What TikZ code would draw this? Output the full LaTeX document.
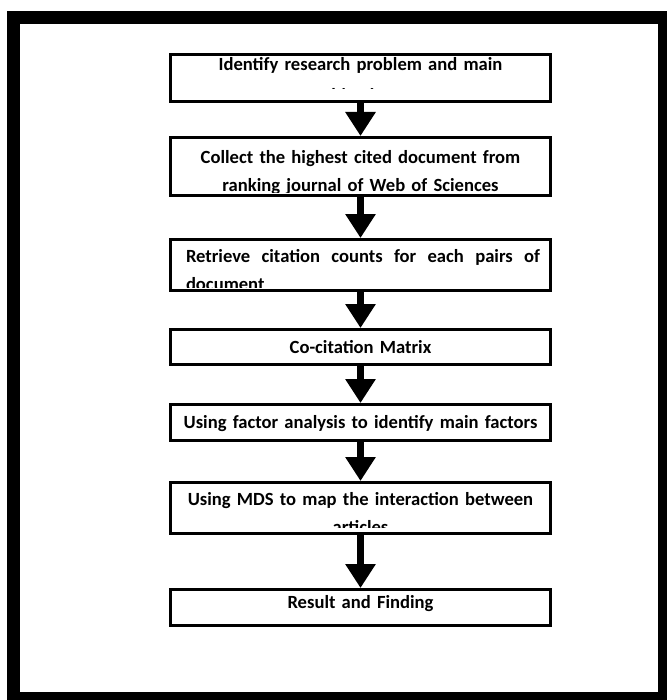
\documentclass[tikz,border=0pt]{standalone}
\usepackage{fontspec}
\setmainfont{Carlito}
\usetikzlibrary{arrows.meta}

\newcommand\stagefont{\bfseries\fontsize{9.3}{14}\selectfont\hyphenpenalty=10000}

\tikzset{
    stage/.style={draw=black, line width=1.5pt, minimum width=190pt, inner sep=0pt},
    stagetext/.style={font=\stagefont, text width=186pt, align=center, inner sep=0pt, anchor=base},
    flow/.style={line width=3.5pt, -{Triangle[width=14.5pt,length=12pt]}}
}

\begin{document}
\begin{tikzpicture}[x=0.5pt, y=-0.5pt]
        \useasboundingbox (0, 0) rectangle (667, 700);
        \draw [line width=6.5pt] (13.5, 18) rectangle (664.5, 698.5);

        \node [stage, minimum height=23.5pt] (identify) at (360.5, 78) {};
        \node [stage, minimum height=29pt] (collect) at (360.5, 166.5) {};
        \node [stage, minimum height=25.5pt] (retrieve) at (360.5, 265) {};
        \node [stage, minimum height=17.5pt] (matrix) at (360.5, 347) {};
        \node [stage, minimum height=18pt] (factor) at (360.5, 422.5) {};
        \node [stage, minimum height=25.5pt] (mds) at (360.5, 508) {};
        \node [stage, minimum height=18pt] (result) at (360.5, 607.5) {};

        \begin{scope}
            \clip (identify.north west) rectangle ([yshift=7pt]identify.south east);
            \node [stagetext] (identify-txt) at (360.5, 71) {Identify research problem and main\\[1.5pt]objectives};
        \end{scope}
        \begin{scope}
            \clip (collect.north west) rectangle ([yshift=2.25pt]collect.south east);
            \node [stagetext] (collect-txt) at (360.5, 163) {Collect the highest cited document from\\ranking journal of Web of Sciences};
        \end{scope}
        \begin{scope}
            \clip (retrieve.north west) rectangle ([yshift=2.5pt]retrieve.south east);
            \node [stagetext, text width=177pt, align=justify] (retrieve-txt) at (363, 262) {Retrieve citation counts for each pairs of document};
        \end{scope}
        \node [stagetext] (matrix-txt) at (360.5, 353) {Co-citation Matrix};
        \node [stagetext] (factor-txt) at (360.5, 428) {Using factor analysis to identify main factors};
        \begin{scope}
            \clip (mds.north west) rectangle ([yshift=4pt]mds.south east);
            \node [stagetext] (mds-txt) at (360.5, 505) {Using MDS to map the interaction between\\articles};
        \end{scope}
        \node [stagetext] (result-txt) at (360.5, 608) {Result and Finding};

        \foreach \a/\b in {identify/collect, collect/retrieve, retrieve/matrix, matrix/factor, factor/mds, mds/result}
            \draw [flow] (\a.south) -- (\b.north);
    \end{tikzpicture}
\end{document}
